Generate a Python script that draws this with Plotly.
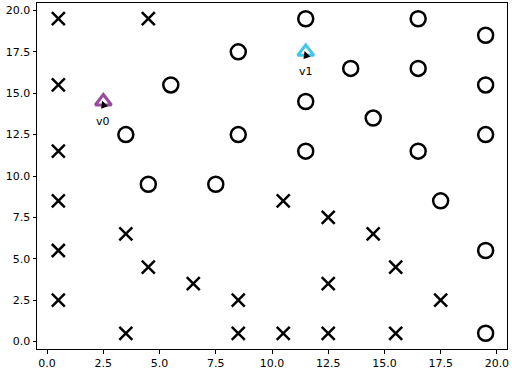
import plotly.graph_objects as go

# cells marked with an X
x_cross = [0.5, 0.5, 0.5, 0.5, 0.5, 0.5, 4.5, 3.5, 4.5, 6.5, 8.5, 3.5, 8.5,
           10.5, 12.5, 14.5, 15.5, 12.5, 17.5, 10.5, 12.5, 15.5]
y_cross = [19.5, 15.5, 11.5, 8.5, 5.5, 2.5, 19.5, 6.5, 4.5, 3.5, 2.5, 0.5, 0.5,
           8.5, 7.5, 6.5, 4.5, 3.5, 2.5, 0.5, 0.5, 0.5]

# cells marked with an O
x_ring = [8.5, 5.5, 3.5, 8.5, 4.5, 7.5, 11.5, 16.5, 19.5, 13.5, 16.5, 19.5,
          11.5, 14.5, 19.5, 11.5, 16.5, 17.5, 19.5, 19.5]
y_ring = [17.5, 15.5, 12.5, 12.5, 9.5, 9.5, 19.5, 19.5, 18.5, 16.5, 16.5, 15.5,
          14.5, 13.5, 12.5, 11.5, 11.5, 8.5, 5.5, 0.5]

# vehicles
v_names = ["v0", "v1"]
v_x = [2.5, 11.5]
v_y = [14.5, 17.5]
v_colors = ["#9a4a9c", "#3ec6ee"]

fig = go.Figure()

fig.add_trace(go.Scatter(x=x_cross, y=y_cross, mode="markers",
                         marker=dict(symbol="x-thin-open", size=13, color="black",
                                     line=dict(width=2.5, color="black"))))
fig.add_trace(go.Scatter(x=x_ring, y=y_ring, mode="markers",
                         marker=dict(symbol="circle-open", size=15, color="black",
                                     line=dict(width=2.5, color="black"))))

for name, vx, vy, c in zip(v_names, v_x, v_y, v_colors):
    fig.add_trace(go.Scatter(x=[vx], y=[vy], mode="markers",
                             marker=dict(symbol="triangle-up-open", size=14, color=c,
                                         line=dict(width=3, color=c))))
    # little heading arrow
    fig.add_annotation(x=vx - 0.05, y=vy + 0.05, ax=2, ay=6, xref="x", yref="y",
                       showarrow=True, arrowhead=2, arrowsize=1.2, arrowwidth=1.2,
                       arrowcolor="black", text="")
    fig.add_annotation(x=vx, y=vy - 0.7, text=name, showarrow=False,
                       xanchor="center", yanchor="top",
                       font=dict(family="DejaVu Sans", size=11, color="black"))

axis_style = dict(range=[-0.45, 20.45], tickmode="array",
                  tickvals=[0, 2.5, 5, 7.5, 10, 12.5, 15, 17.5, 20],
                  ticktext=["0.0", "2.5", "5.0", "7.5", "10.0", "12.5", "15.0", "17.5", "20.0"],
                  showgrid=False, zeroline=False, showline=True, linecolor="black",
                  linewidth=1, mirror=True, ticks="outside", ticklen=3.5,
                  tickcolor="black", tickfont=dict(family="DejaVu Sans", size=11, color="black"))

fig.update_xaxes(**axis_style)
fig.update_yaxes(**axis_style)
fig.update_layout(width=512, height=372, showlegend=False,
                  margin=dict(l=37, r=5, t=2, b=20),
                  plot_bgcolor="white", paper_bgcolor="white")

# drop the default page margin so the figure sits at the window's corner
fig.write_html("out.html", config={"displayModeBar": False},
               post_script="document.body.style.margin='0';")
